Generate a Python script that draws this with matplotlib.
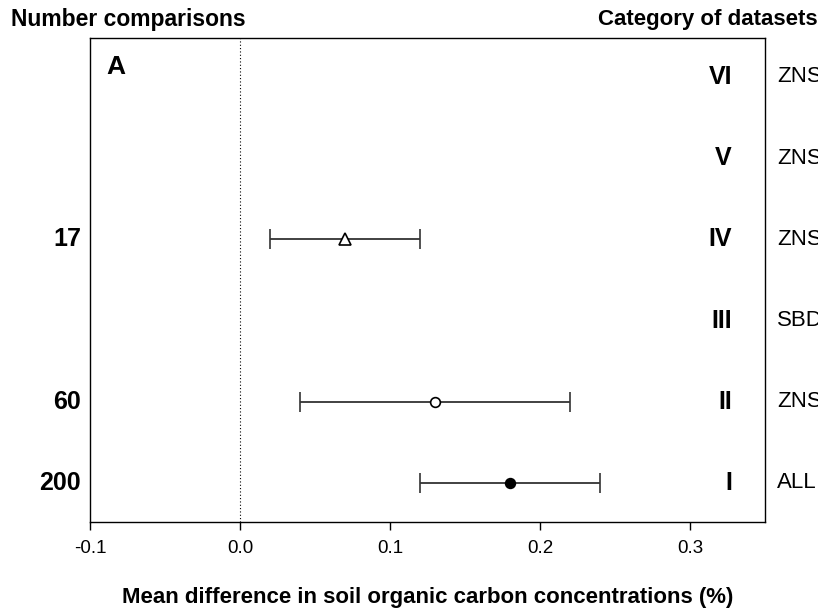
import matplotlib
matplotlib.use("Agg")
from matplotlib import pyplot as plt

plt.rcParams["font.family"] = ["Liberation Sans", "DejaVu Sans"]

# categories, bottom to top
categories = ["I", "II", "III", "IV", "V", "VI"]
datasets = ["ALL", "ZNS", "SBD", "ZNS", "ZNS", "ZNS"]
comparisons = ["200", "60", "", "17", "", ""]

# mean difference and its interval (only I, II and IV have data)
mean_diff = [0.18, 0.13, None, 0.07, None, None]
lower = [0.12, 0.04, None, 0.02, None, None]
upper = [0.24, 0.22, None, 0.12, None, None]
markers = ["o", "o", None, "^", None, None]
fills = ["black", "white", None, "white", None, None]

xticks = [-0.1, 0.0, 0.1, 0.2, 0.3]

fig = plt.figure(figsize=(8.18, 6.13), dpi=100)
ax = fig.add_axes([0.110, 0.1485, 0.825, 0.7895])

ax.axvline(0.0, color="black", lw=0.8, ls=(0, (1, 2)))

for i, cat in enumerate(categories):
    y = i + 1
    if mean_diff[i] is not None:
        m = mean_diff[i]
        ax.errorbar(m, y, xerr=[[m - lower[i]], [upper[i] - m]],
                    fmt=markers[i], color="black", mfc=fills[i], mec="black",
                    ms=7 if markers[i] == "o" else 8, mew=1.2,
                    ecolor="#333333", elinewidth=1.3, capsize=7, capthick=1.3)
    ax.text(0.328, y, cat, ha="right", va="center", fontsize=18, fontweight="bold")
    ax.text(1.018, y, datasets[i], transform=ax.get_yaxis_transform(),
            ha="left", va="center", fontsize=16, clip_on=False)
    if comparisons[i]:
        ax.text(-0.013, y, comparisons[i], transform=ax.get_yaxis_transform(),
                ha="right", va="center", fontsize=18, fontweight="bold")

ax.text(-0.089, 6.12, "A", ha="left", va="center", fontsize=19, fontweight="bold")

ax.set_xlim(-0.1, 0.35)
ax.set_ylim(0.52, 6.48)
ax.set_xticks(xticks)
ax.set_xticklabels(["-0.1", "0.0", "0.1", "0.2", "0.3"], fontsize=13.5)
ax.set_yticks([])
ax.tick_params(axis="x", direction="out", length=6, width=1, pad=7)
for s in ax.spines.values():
    s.set_linewidth(1)

fig.text(0.013, 0.969, "Number comparisons", ha="left", va="center",
         fontsize=16.5, fontweight="bold")
fig.text(1.0, 0.969, "Category of datasets", ha="right", va="center",
         fontsize=16, fontweight="bold")
fig.text(0.523, 0.025, "Mean difference in soil organic carbon concentrations (%)",
         ha="center", va="center", fontsize=16, fontweight="bold")

fig.savefig("out.png", dpi=100, facecolor="white")
